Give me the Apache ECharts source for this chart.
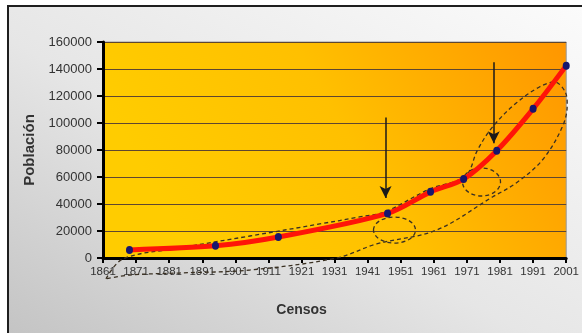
<!DOCTYPE html>
<html>
<head>
<meta charset="utf-8">
<script src="https://cdn.jsdelivr.net/npm/echarts@6/dist/echarts.min.js"></script>
<style>
  html, body { margin: 0; padding: 0; background: #fff; }
  #frame {
    position: absolute; left: 7px; top: 5px; width: 575px; height: 328px;
    box-sizing: border-box;
    border-top: 2px solid #1e1e1e; border-left: 2px solid #1e1e1e;
    background: linear-gradient(to top right, #c4c4c4 0%, #e6e6e6 45%, #fbfbfb 100%);
  }
  #chart { width: 573px; height: 326px; }
</style>
</head>
<body>
<div id="frame"><div id="chart"></div></div>
<script>
// datos del censo
const years = [1869, 1895, 1914, 1947, 1960, 1970, 1980, 1991, 2001];
const poblacion = [6000, 9000, 15500, 33000, 49000, 58500, 79500, 110500, 142500];

// contorno discontinuo dibujado alrededor de la curva (años / población)
const contornoAnios = [1861.9, 1867.0, 1884.2, 1905.4, 1926.5, 1938.5, 1946.1, 1959.7, 1970.5, 1974.2, 1978.7,
  1985.9, 1992.9, 1997.4, 2000.7, 2001.3, 1999.8, 1993.8, 1985.9, 1978.7, 1961.8, 1943.7, 1931.6, 1905.4,
  1884.2, 1869.1, 1861.9];
const contornoValores = [-15500, -700, 7400, 16300, 25200, 30400, 34100, 51100, 60700, 80000, 97000,
  114800, 126700, 130400, 123000, 113300, 97000, 72600, 55600, 45200, 20700, 10400, 0, -8900,
  -11100, -12600, -15500];

// circulos pequeños
const circulosAnios = [1949.1, 1975.4];
const circulosValores = [20700, 56300];

// flechas
const flechaAnios = [1946.4, 1979.1];
const flechaDesde = [104000, 145000];
const flechaHasta = [44500, 85000];

const font = '"Liberation Sans", Arial, sans-serif';
const radios = [[21, 13], [19, 14]];

const chart = echarts.init(document.getElementById('chart'));

const option = {
  animation: false,
  grid: {
    left: 94, right: 15, top: 35, bottom: 75,
    show: true,
    borderColor: '#9a9a9a',
    borderWidth: 1,
    backgroundColor: new echarts.graphic.LinearGradient(0.2, 1, 1, 0, [
      { offset: 0, color: '#ffcc00' },
      { offset: 0.45, color: '#ffc000' },
      { offset: 1, color: '#ff9600' }
    ])
  },
  xAxis: {
    type: 'value',
    min: 1861,
    max: 2001,
    interval: 10,
    name: 'Censos',
    nameLocation: 'middle',
    nameGap: 45,
    nameTextStyle: { fontFamily: font, fontSize: 14, fontWeight: 'bold', color: '#333', padding: [0, 66, 0, 0] },
    axisLine: { lineStyle: { color: '#000', width: 3 } },
    axisTick: { length: 5, lineStyle: { color: '#000', width: 2 } },
    axisLabel: { fontFamily: font, fontSize: 11.5, color: '#333', margin: 8, formatter: v => String(v) },
    splitLine: { show: false }
  },
  yAxis: {
    type: 'value',
    min: 0,
    max: 160000,
    interval: 20000,
    name: 'Población',
    nameLocation: 'middle',
    nameGap: 62,
    nameTextStyle: { fontFamily: font, fontSize: 15, fontWeight: 'bold', color: '#333' },
    axisLine: { show: true, lineStyle: { color: '#000', width: 3 } },
    axisTick: { show: true, length: 6, lineStyle: { color: '#000', width: 2 } },
    axisLabel: { fontFamily: font, fontSize: 13, color: '#333', margin: 11, formatter: v => String(v) },
    splitLine: { lineStyle: { color: '#5e4630', width: 1 } }
  },
  series: [
    {
      type: 'line',
      data: years.map((y, i) => [y, poblacion[i]]),
      smooth: 0.3,
      z: 5,
      lineStyle: { color: '#ff1408', width: 5 },
      symbol: 'circle',
      symbolSize: [7, 8],
      itemStyle: { color: '#16166e' },
      markLine: {
        silent: true,
        symbol: ['none', 'arrow'],
        symbolSize: [9, 12],
        label: { show: false },
        lineStyle: { color: '#1a1a1a', width: 1.5, type: 'solid' },
        data: flechaAnios.map((a, i) => [
          { coord: [a, flechaDesde[i]] },
          { coord: [a, flechaHasta[i]] }
        ])
      }
    },
    {
      type: 'line',
      data: contornoAnios.map((a, i) => [a, contornoValores[i]]),
      smooth: 0.35,
      clip: false,
      symbol: 'none',
      silent: true,
      z: 4,
      lineStyle: { color: '#3a3022', width: 1.3, type: [4, 3] }
    },
    {
      type: 'custom',
      data: circulosAnios.map((a, i) => [a, circulosValores[i]]),
      clip: false,
      silent: true,
      z: 4,
      renderItem: (params, api) => {
        const p = api.coord([api.value(0), api.value(1)]);
        const r = radios[params.dataIndex];
        return {
          type: 'ellipse',
          shape: { cx: p[0], cy: p[1], rx: r[0], ry: r[1] },
          style: { fill: 'none', stroke: '#3a3022', lineWidth: 1.3, lineDash: [4, 3] }
        };
      }
    }
  ]
};

chart.setOption(option);
</script>
</body>
</html>
